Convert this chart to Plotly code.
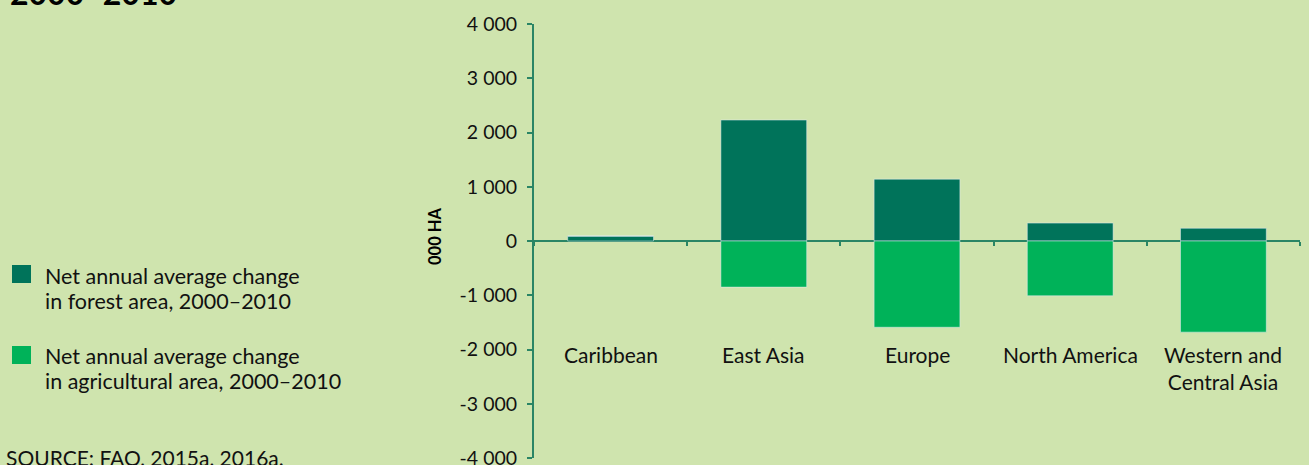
import plotly.graph_objects as go

regions = ["Caribbean", "East Asia", "Europe", "North America", "Western and Central Asia"]
region_labels = ["Caribbean", "East Asia", "Europe", "North America", "Western and<br>Central Asia"]
forest_change = [90, 2230, 1140, 330, 235]
agri_change = [0, -850, -1590, -1010, -1680]
y_ticks = [4000, 3000, 2000, 1000, 0, -1000, -2000, -3000, -4000]
y_tick_text = ["4 000", "3 000", "2 000", "1 000", "0", "-1 000", "-2 000", "-3 000", "-4 000"]
forest_name = "Net annual average change<br>in forest area, 2000–2010"
agri_name = "Net annual average change<br>in agricultural area, 2000–2010"
source_text = "SOURCE: FAO, 2015a, 2016a."
title_text = "2000–2010"

W, H = 1309, 465
ML, MR, MT, MB = 534, 9, 24, 7
PW, PH = W - ML - MR, H - MT - MB

def px(x):
    return (x - ML) / PW

def py(y):
    return (H - MB - y) / PH

BG = "#cfe4ae"
DARK = "#00735a"
LIGHT = "#00b259"
AXIS = "#2a8565"
FONT = "Lato"

fig = go.Figure()
fig.add_trace(go.Bar(x=regions, y=forest_change, marker_color=DARK, name=forest_name, showlegend=False))
fig.add_trace(go.Bar(x=regions, y=agri_change, marker_color=LIGHT, name=agri_name, showlegend=False))

fig.update_layout(
    width=W, height=H,
    margin=dict(l=ML, r=MR, t=MT, b=MB, autoexpand=False),
    paper_bgcolor=BG, plot_bgcolor=BG,
    barmode="relative", bargap=0.44,
    font=dict(family=FONT, color="#111111"),
    showlegend=False,
)
fig.update_xaxes(
    range=[-0.5, 4.5], anchor="free", position=0.5,
    showline=True, linecolor=AXIS, linewidth=2,
    ticks="outside", tickson="boundaries", ticklen=4, tickcolor=AXIS, tickwidth=1.5,
    showticklabels=False, showgrid=False, zeroline=False, layer="below traces",
    automargin=False,
)
fig.update_yaxes(
    range=[-4000, 4000], tickvals=y_ticks, ticktext=y_tick_text,
    showline=True, linecolor=AXIS, linewidth=2,
    ticks="outside", ticklen=5, tickcolor=AXIS, tickwidth=1.5,
    tickfont=dict(size=19.5, family=FONT, color="#111111"), ticklabelstandoff=6,
    ticklabeloverflow="allow", automargin=False,
    showgrid=False, zeroline=False,
)

annotations = []
for r, lab in zip(regions, region_labels):
    annotations.append(dict(x=r, y=-1830, xref="x", yref="y", text=lab, showarrow=False,
                            yanchor="top", xanchor="center", align="center",
                            font=dict(size=21, family=FONT, color="#111111")))
annotations.append(dict(x=px(435), y=py(237), xref="paper", yref="paper", text="<b>000 HA</b>",
                        textangle=-90, showarrow=False, xanchor="center", yanchor="middle",
                        font=dict(size=16.5, family=FONT, color="#000000")))
for name, top in ((forest_name, 261), (agri_name, 341)):
    for i, line in enumerate(name.split("<br>")):
        annotations.append(dict(x=px(43), y=py(top + 25 * i), xref="paper", yref="paper", text=line,
                                showarrow=False, xanchor="left", yanchor="top", align="left",
                                font=dict(size=21.5, family=FONT, color="#111111")))
annotations.append(dict(x=px(4), y=py(443), xref="paper", yref="paper", text=source_text,
                        showarrow=False, xanchor="left", yanchor="top", align="left",
                        font=dict(size=21, family=FONT, color="#111111")))
annotations.append(dict(x=px(8), y=py(14), xref="paper", yref="paper", text="<b>" + title_text + "</b>",
                        showarrow=False, xanchor="left", yanchor="bottom",
                        font=dict(size=32, family=FONT, color="#000000", weight=900)))
fig.update_layout(annotations=annotations)

fig.add_shape(type="rect", xref="paper", yref="paper", x0=px(12), x1=px(31), y0=py(283), y1=py(265),
              fillcolor=DARK, line_width=0)
fig.add_shape(type="rect", xref="paper", yref="paper", x0=px(12), x1=px(31), y0=py(364), y1=py(346),
              fillcolor=LIGHT, line_width=0)

fig.write_html("out.html", config={"displayModeBar": False},
               post_script="document.body.style.margin='0';document.body.style.padding='0';"
                           "document.documentElement.style.overflow='hidden';")
